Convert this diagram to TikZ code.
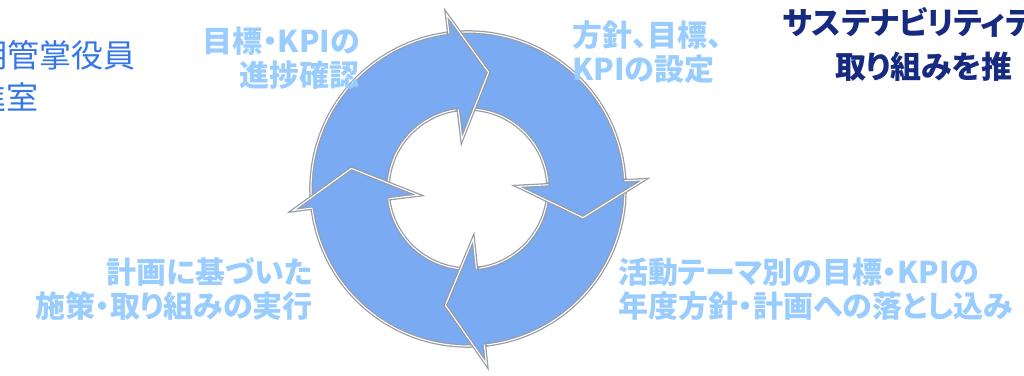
\documentclass[tikz,border=0pt]{standalone}
\usepackage{fontspec}
\usepackage{tikz}
\newfontfamily\jp[RawFeature=+palt]{Noto Sans CJK JP}
\definecolor{ringblue}{RGB}{122,170,242}
\definecolor{rimgray}{RGB}{150,156,168}
\definecolor{steplabel}{RGB}{153,204,255}
\definecolor{titlenavy}{RGB}{22,42,128}
\definecolor{deptblue}{RGB}{52,118,232}
\tikzset{
  ringbody/.style={fill=ringblue,draw=rimgray,line width=3.6pt,postaction={draw=white,line width=1.1pt}},
  headrim/.style={draw=rimgray,line width=3.6pt,postaction={draw=white,line width=1.1pt}},
  steptext/.style={font=\jp\bfseries\fontsize{30}{34}\selectfont,text=steplabel,inner sep=0pt},
  titletext/.style={font=\jp\bfseries\fontsize{31}{34}\selectfont,text=titlenavy,inner sep=0pt,anchor=west},
  depttext/.style={font=\jp\fontsize{32}{34}\selectfont,text=deptblue,inner sep=0pt,anchor=east}
}

\begin{document}
\begin{tikzpicture}[x=1pt,y=1pt]
\useasboundingbox (0,0) rectangle (1024,375);

% the cycle: four arcs, each with a notched tail
\begin{scope}[shift={(468,186)}]
  \draw[ringbody] (187:157) -- (170:118.5) -- (187:80) arc[start angle=187,end angle=94,radius=80]
    -- (94:157) arc[start angle=94,end angle=187,radius=157] -- cycle;
  \draw[ringbody] (97:157) -- (80:118.5) -- (97:80) arc[start angle=97,end angle=0,radius=80]
    -- (0:157) arc[start angle=0,end angle=97,radius=157] -- cycle;
  \draw[ringbody] (3:157) -- (-14:118.5) -- (3:80) arc[start angle=3,end angle=-87,radius=80]
    -- (-87:157) arc[start angle=-87,end angle=3,radius=157] -- cycle;
  \draw[ringbody] (276:157) -- (259:118.5) -- (276:80) arc[start angle=276,end angle=184,radius=80]
    -- (184:157) arc[start angle=184,end angle=276,radius=157] -- cycle;

  % arrow heads on top
  \fill[ringblue] (97:176) -- (80:118.5) -- (97:50) -- cycle;
  \fill[ringblue] (3:176) -- (-14:118.5) -- (3:50) -- cycle;
  \fill[ringblue] (-84:176) -- (-101:118.5) -- (-84:50) -- cycle;
  \fill[ringblue] (187:176) -- (170:118.5) -- (187:50) -- cycle;
  \draw[headrim] (97:157) -- (97:176) -- (80:118.5) -- (97:50) -- (97:80);
  \draw[headrim] (3:157) -- (3:176) -- (-14:118.5) -- (3:50) -- (3:80);
  \draw[headrim] (-84:157) -- (-84:176) -- (-101:118.5) -- (-84:50) -- (-84:80);
  \draw[headrim] (187:157) -- (187:176) -- (170:118.5) -- (187:50) -- (187:80);
\end{scope}

% step labels
\node[steptext,anchor=east,align=right] (kpicheck) at (360,317) {目標・KPIの\\進捗確認};
\node[steptext,anchor=west,align=left] (policy) at (572,323) {方針、目標、\\KPIの設定};
\node[steptext,anchor=east,align=right] (execute) at (313,86) {計画に基づいた\\施策・取り組みの実行};
\node[steptext,anchor=west,align=left] (rollout) at (618,86) {活動テーマ別の目標・KPIの\\年度方針・計画への落とし込み};

% title and department, cut at the edges
\node[titletext] (titletop) at (783,353) {サステナビリティテ};
\node[titletext] (titlebottom) at (835,308) {取り組みを推};
\node[depttext] (depttop) at (136,320) {明管掌役員};
\node[depttext] (deptbottom) at (39,278) {進室};
\end{tikzpicture}
\end{document}
